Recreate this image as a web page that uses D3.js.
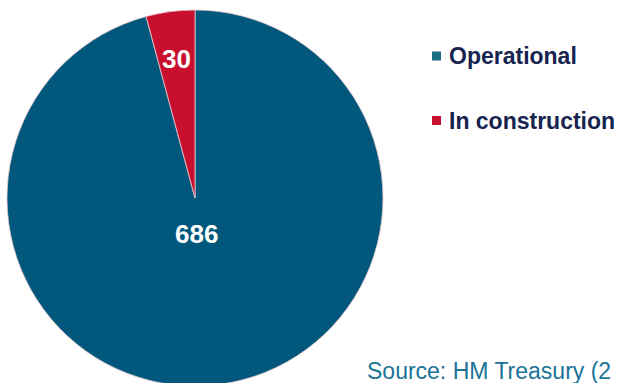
<!DOCTYPE html>
<html>
<head>
<meta charset="utf-8">
<script src="https://cdn.jsdelivr.net/npm/d3@7"></script>
<style>
  html, body { margin: 0; padding: 0; background: #ffffff; }
  svg { display: block; }
</style>
</head>
<body>
<svg id="chart" width="617" height="383"></svg>
<script>
// Projects by status
const categories = ["Operational", "In construction"];
const values = [686, 30];
const colors = ["#01587c", "#c8102e"];
const legendColors = ["#1b6f84", "#c8102e"];
// radial distance of each value label, as a fraction of the radius
const labelRadius = [0.19, 0.748];

const width = 617, height = 383;
const cx = 195, cy = 198, r = 188;

const svg = d3.select("#chart");

const data = categories.map((c, i) => ({ category: c, value: values[i], i }));

const pie = d3.pie().value(d => d.value).sort(null);
const arcs = pie(data);
const arc = d3.arc().innerRadius(0).outerRadius(r);

const g = svg.append("g").attr("transform", `translate(${cx},${cy})`);

g.selectAll("path.slice")
  .data(arcs)
  .join("path")
  .attr("class", "slice")
  .attr("d", arc)
  .attr("fill", d => colors[d.data.i])
  .attr("stroke", "#e9c9cf")
  .attr("stroke-width", 0.8);

g.selectAll("text.value")
  .data(arcs)
  .join("text")
  .attr("class", "value")
  .attr("transform", d => {
    const lr = r * labelRadius[d.data.i];
    const c = d3.arc().innerRadius(lr).outerRadius(lr).centroid(d);
    return `translate(${c[0] - (d.data.i === 0 ? 3 : 0)},${c[1]})`;
  })
  .attr("text-anchor", "middle")
  .attr("dy", "0.36em")
  .attr("fill", "#ffffff")
  .style("font-family", "'Liberation Sans', Arial, sans-serif")
  .style("font-weight", "bold")
  .style("font-size", "26px")
  .text(d => d.data.value);

// Legend
const legend = svg.append("g");
const legendY = [56, 120.5];
const item = legend.selectAll("g.item")
  .data(data)
  .join("g")
  .attr("class", "item")
  .attr("transform", d => `translate(432,${legendY[d.i]})`);

item.append("rect")
  .attr("x", 0).attr("y", -4.5)
  .attr("width", 9).attr("height", 9)
  .attr("fill", d => legendColors[d.i]);

item.append("text")
  .attr("x", 17).attr("y", 0)
  .attr("dy", "0.35em")
  .attr("fill", "#16244f")
  .style("font-family", "'Liberation Sans', Arial, sans-serif")
  .style("font-weight", "bold")
  .style("font-size", "23px")
  .text(d => d.category);

// Source note
svg.append("text")
  .attr("x", 367).attr("y", 379)
  .attr("fill", "#1a7397")
  .style("font-family", "'Liberation Sans', Arial, sans-serif")
  .style("font-size", "23px")
  .text("Source: HM Treasury (2");
</script>
</body>
</html>
